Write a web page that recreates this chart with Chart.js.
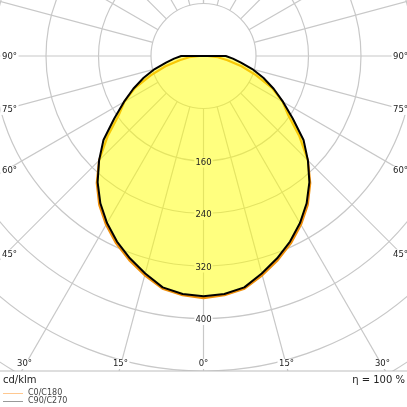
<!DOCTYPE html>
<html><head><meta charset="utf-8">
<script src="https://cdn.jsdelivr.net/npm/chart.js@4"></script>
<style>
html,body{margin:0;padding:0;background:#fff;width:407px;height:407px;overflow:hidden;font-family:"DejaVu Sans",sans-serif;}
#wrap{position:relative;width:407px;height:407px;}
canvas{position:absolute;left:0;top:0;}
.t{position:absolute;color:#222;white-space:nowrap;line-height:1;}
.lg{position:absolute;height:1px;width:20px;left:3px;}
</style></head><body>
<div id="wrap">
<canvas id="c" width="407" height="407"></canvas>
<div class="t" style="left:3px;top:375px;font-size:10px">cd/klm</div>
<div class="t" style="right:2px;top:375px;font-size:10px">η = 100 %</div>
<div class="lg" style="top:393px;background:#ffc890"></div>
<div class="t" style="left:28px;top:389px;font-size:8px;color:#444">C0/C180</div>
<div class="lg" style="top:401px;background:#999"></div>
<div class="t" style="left:28px;top:397px;font-size:8px;color:#444">C90/C270</div>
</div>
<script>
// gamma angles (degrees from nadir)
const angles = [0,5,10,15,20,25,30,35,40,45,50,55,60,65,70,75,80,85,90];
// intensities in cd/klm
const c0c180 = [369,366,360,346,331,315,297,277,253,225,191,158,139,115,85,60,37,22,6];
const c90c270 = [366,364,358,343,328,312,294,274,251,225,199,166,140,118,97,77,58,45,34];
// grid
const ringValues = [80,160,240,320,400,480,560,640,720];
const ringLabels = [160,240,320,400];
const radialAngles = [-180,-165,-150,-135,-120,-105,-90,-75,-60,-45,-30,-15,0,15,30,45,60,75,90,105,120,135,150,165,180];
const angleLabels = [-90,-75,-60,-45,-30,-15,0,15,30,45,60,75,90];

function polarPoints(values){
  const pts=[{x:0,y:0}];
  for(let i=angles.length-1;i>=0;i--){
    const a=angles[i]*Math.PI/180;
    pts.push({x:-values[i]*Math.sin(a), y:values[i]*Math.cos(a)});
  }
  for(let i=1;i<angles.length;i++){
    const a=angles[i]*Math.PI/180;
    pts.push({x:values[i]*Math.sin(a), y:values[i]*Math.cos(a)});
  }
  pts.push({x:0,y:0});
  return pts;
}

const FONT = '"DejaVu Sans", sans-serif';
const GRID = '#c8c8c8';

const polarGrid = {
  id:'polarGrid',
  beforeDraw(chart){
    const {ctx, chartArea:ca, scales:{x,y}} = chart;
    const cx=x.getPixelForValue(0), cy=y.getPixelForValue(0);
    ctx.save();
    ctx.fillStyle='#fff'; ctx.fillRect(0,0,chart.width,chart.height);
    ctx.beginPath(); ctx.rect(ca.left,ca.top,ca.right-ca.left,ca.bottom-ca.top); ctx.clip();
    ctx.strokeStyle=GRID; ctx.lineWidth=1.2;
    ringValues.forEach(r=>{
      const rp=x.getPixelForValue(r)-cx;
      ctx.beginPath(); ctx.arc(cx,cy,rp,0,Math.PI*2); ctx.stroke();
    });
    radialAngles.forEach(d=>{
      const a=d*Math.PI/180;
      const r0=ringValues[0], r1=2000;
      ctx.beginPath();
      ctx.moveTo(x.getPixelForValue(r0*Math.sin(a)), y.getPixelForValue(r0*Math.cos(a)));
      ctx.lineTo(x.getPixelForValue(r1*Math.sin(a)), y.getPixelForValue(r1*Math.cos(a)));
      ctx.stroke();
    });
    // backgrounds behind ring labels
    ctx.font='8.5px '+FONT;
    ctx.fillStyle='#fff';
    ringLabels.forEach(v=>{
      const py=y.getPixelForValue(v)+1.5;
      const w=ctx.measureText(String(v)).width;
      ctx.fillRect(cx-w/2-1,py-5,w+2,10);
    });
    ctx.restore();
    ctx.save();
    ctx.strokeStyle='#bdbdbd'; ctx.lineWidth=1.2;
    ctx.beginPath(); ctx.moveTo(0,ca.bottom); ctx.lineTo(chart.width,ca.bottom); ctx.stroke();
    ctx.restore();
  },
  afterDraw(chart){
    const {ctx, chartArea:ca, scales:{x,y}} = chart;
    const cx=x.getPixelForValue(0), cy=y.getPixelForValue(0);
    ctx.save();
    ctx.font='8.5px '+FONT;
    ctx.textAlign='center'; ctx.textBaseline='middle';
    ctx.fillStyle='#222';
    ringLabels.forEach(v=>{
      ctx.fillText(String(v), cx, y.getPixelForValue(v)+1.5);
    });
    const L=ca.left+6, R=ca.right-6, B=ca.bottom-5;
    angleLabels.forEach(d=>{
      const a=d*Math.PI/180, dx=Math.sin(a), dy=Math.cos(a);
      let t=1e9, side='b';
      if(dx<-1e-6){ const tt=(L-cx)/dx; if(tt<t){t=tt;side='l';} }
      if(dx>1e-6){ const tt=(R-cx)/dx; if(tt<t){t=tt;side='r';} }
      if(dy>1e-6){ const tt=(B-cy)/dy; if(tt<t){t=tt;side='b';} }
      let px=cx+t*dx, py=cy+t*dy;
      if(side==='l'){ px=ca.left+9.5; py+=1; }
      else if(side==='r'){ px=ca.right-6.5; py+=1; }
      else { py=ca.bottom-7; }
      const s=Math.abs(d)+'°';
      const w=ctx.measureText(s).width;
      ctx.fillStyle='#fff';
      ctx.fillRect(px-w/2-1.5,py-5,w+3,10);
      ctx.fillStyle='#222';
      ctx.fillText(s,px,py);
    });
    ctx.restore();
  }
};

const S = 52.5/80; // px per cd/klm
const chart = new Chart(document.getElementById('c'),{
  type:'scatter',
  data:{datasets:[
    {label:'C90/C270', data:polarPoints(c90c270), showLine:true, borderColor:'#000', borderWidth:2,
     backgroundColor:'rgba(255,255,0,0.5)', fill:'shape', pointRadius:0, tension:0, borderJoinStyle:'round'},
    {label:'C0/C180', data:polarPoints(c0c180), showLine:true, borderColor:'#f0900a', borderWidth:2.2,
     backgroundColor:'rgba(0,0,0,0)', fill:false, pointRadius:0, tension:0, borderJoinStyle:'round'}
  ]},
  options:{
    responsive:false, animation:false, devicePixelRatio:1,
    layout:{padding:{left:0,right:0,top:0,bottom:36}},
    scales:{
      x:{type:'linear', display:false, min:-203.5/S, max:203.5/S},
      y:{type:'linear', display:false, reverse:true, min:-56/S, max:315/S}
    },
    plugins:{legend:{display:false}, tooltip:{enabled:false}}
  },
  plugins:[polarGrid]
});
</script>
</body></html>
